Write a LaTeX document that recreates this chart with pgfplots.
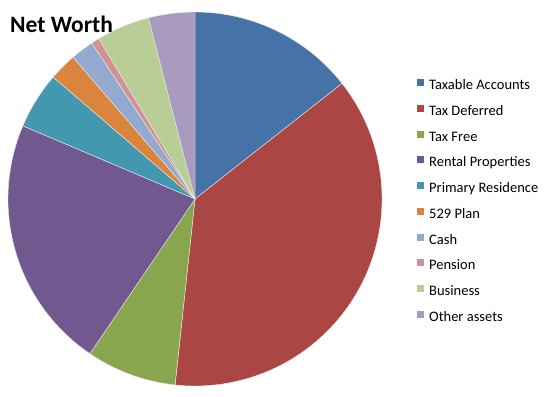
\documentclass[border=0pt]{standalone}
\usepackage{pgfplots}
\usepackage{pgfplotstable}
\usepackage{fontspec}
\setmainfont{Carlito}
\pgfplotsset{compat=1.18}
\definecolor{c0}{HTML}{4572A7}
\definecolor{c1}{HTML}{AA4643}
\definecolor{c2}{HTML}{89A54E}
\definecolor{c3}{HTML}{71588F}
\definecolor{c4}{HTML}{4198AF}
\definecolor{c5}{HTML}{DB843D}
\definecolor{c6}{HTML}{93A9CF}
\definecolor{c7}{HTML}{D19392}
\definecolor{c8}{HTML}{B9CD96}
\definecolor{c9}{HTML}{A99BBD}
\pgfplotstableread{
name value
TaxableAccounts 14.4
TaxDeferred 37.3
TaxFree 7.8
RentalProperties 21.9
PrimaryResidence 4.9
529Plan 2.4
Cash 2.0
Pension 0.7
Business 4.6
OtherAssets 4.0
}\piedata
\begin{document}
\begin{tikzpicture}
\begin{axis}[name=ax,
  x=1bp, y=1bp, xmin=0, xmax=550, ymin=0, ymax=396,
  scale only axis, hide axis, clip=false,
  legend image code/.code={\fill[#1, draw=none] (0bp,0bp) rectangle (7bp,7bp); \path (12.3bp,0bp);},
  legend style={at={(axis cs:416.7,316.7)}, anchor=north west, draw=none, fill=none,
    font=\fontsize{14.5bp}{17bp}\selectfont, inner sep=0pt, outer sep=0pt,
    row sep=12.2bp, column sep=0pt,
    nodes={inner sep=0pt, text height=10bp, text depth=3bp, font=\fontsize{14.5bp}{17bp}\selectfont}},
  legend cell align=left,
]
\def\cum{0}
\pgfplotsforeachungrouped \i in {0,...,9}{%
  \pgfplotstablegetelem{\i}{value}\of\piedata
  \let\v\pgfplotsretval
  \pgfmathsetmacro\a{90-3.6*\cum}
  \pgfmathsetmacro\b{\a-3.6*\v}
  \pgfmathsetmacro\cum{\cum+\v}
  \edef\temp{\noexpand\fill[fill=c\i, draw=white!85!gray, line width=0.4pt] (axis cs:195,197) -- ++(\a:187bp) arc[start angle=\a, end angle=\b, radius=187bp] -- cycle;}
  \temp
}
\node[anchor=base west, inner sep=0pt, font=\bfseries\fontsize{23.5bp}{26bp}\selectfont] at (axis cs:10,363.7) {Net Worth};
\addlegendimage{fill=c0}\addlegendentry{Taxable Accounts}
\addlegendimage{fill=c1}\addlegendentry{Tax Deferred}
\addlegendimage{fill=c2}\addlegendentry{Tax Free}
\addlegendimage{fill=c3}\addlegendentry{Rental Properties}
\addlegendimage{fill=c4}\addlegendentry{Primary Residence}
\addlegendimage{fill=c5}\addlegendentry{529 Plan}
\addlegendimage{fill=c6}\addlegendentry{Cash}
\addlegendimage{fill=c7}\addlegendentry{Pension}
\addlegendimage{fill=c8}\addlegendentry{Business}
\addlegendimage{fill=c9}\addlegendentry{Other assets}
\end{axis}
\pgfresetboundingbox
\path (ax.south west) rectangle (ax.north east);
\end{tikzpicture}
\end{document}
